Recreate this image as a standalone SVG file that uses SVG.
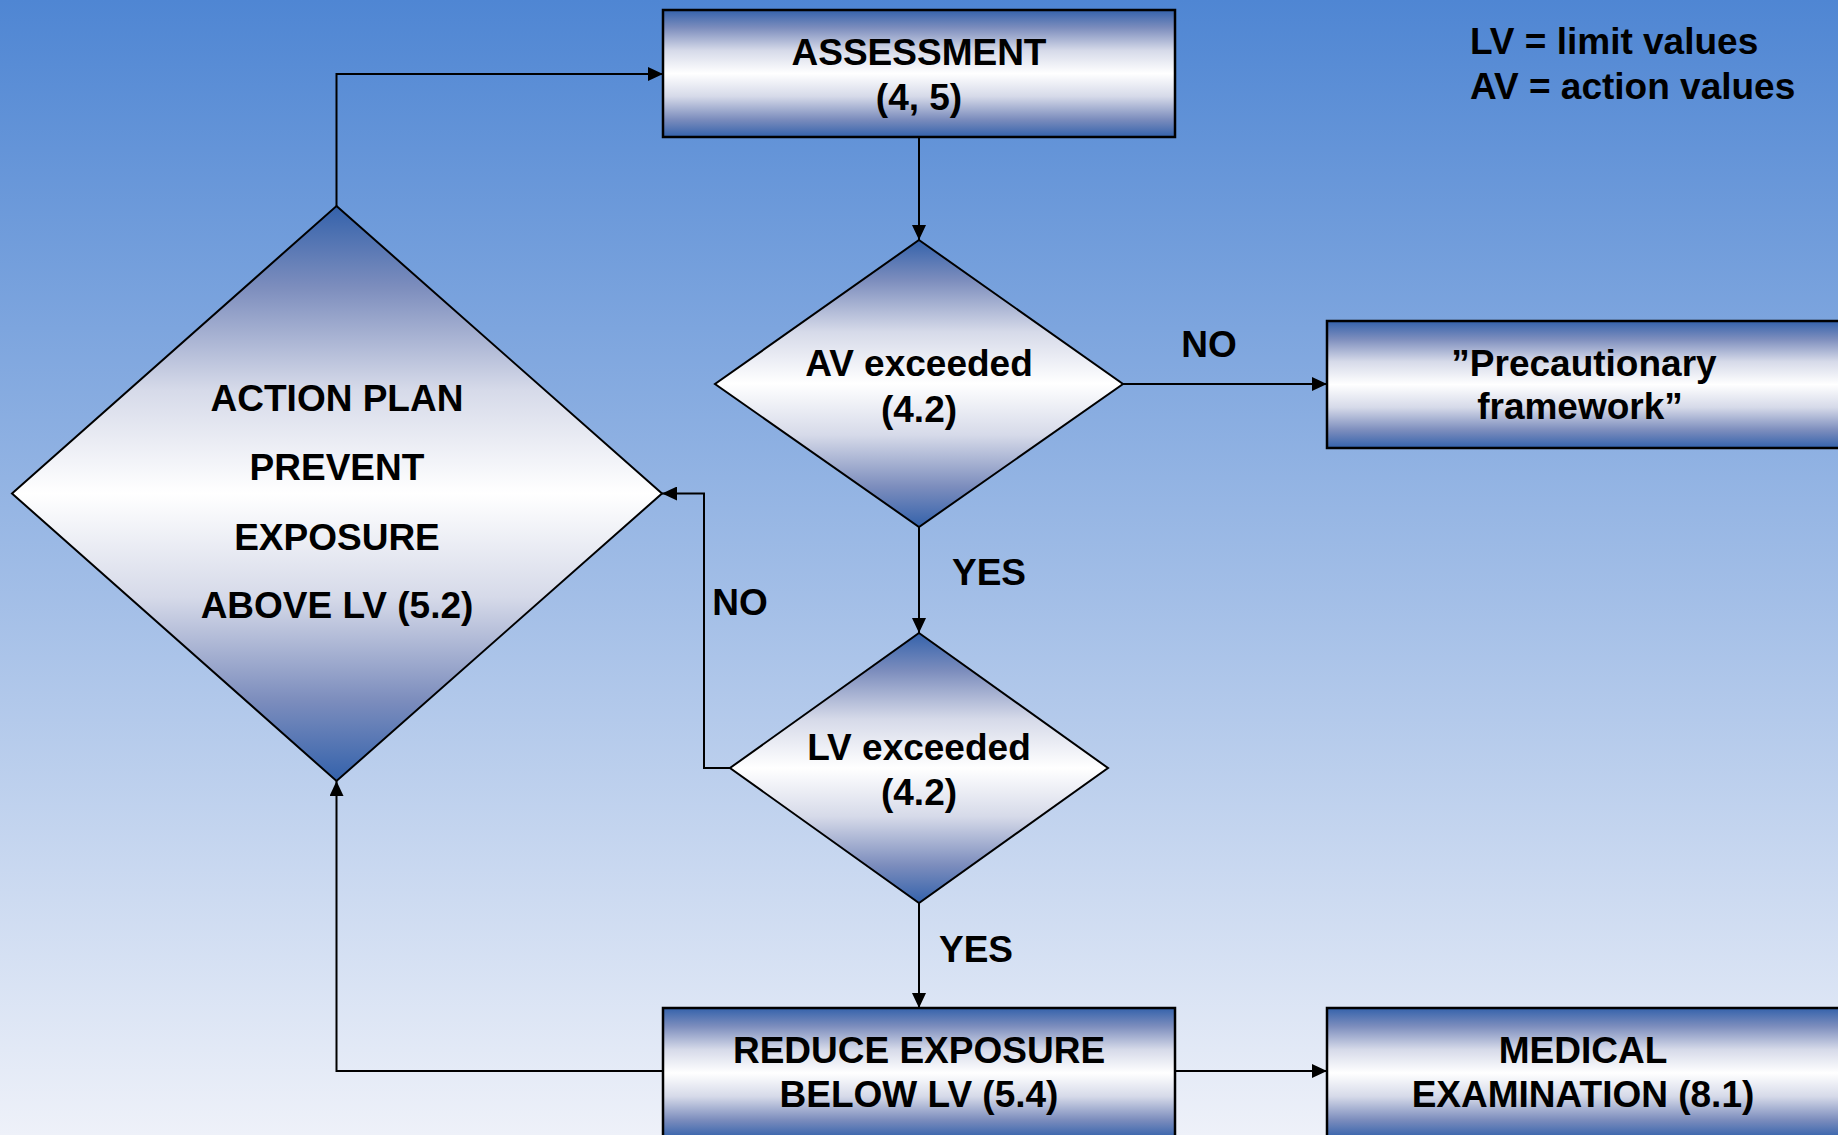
<svg xmlns="http://www.w3.org/2000/svg" width="1838" height="1135" viewBox="0 0 1838 1135">
<defs>
<linearGradient id="bg" x1="0" y1="0" x2="0" y2="1">
<stop offset="0" stop-color="#4f86d3"/>
<stop offset="1" stop-color="#eef1f9"/>
</linearGradient>
<linearGradient id="nodeFill" x1="0" y1="0" x2="0" y2="1">
<stop offset="0" stop-color="#3462ab"/>
<stop offset="0.14" stop-color="#7c8dbd"/>
<stop offset="0.32" stop-color="#d6dae9"/>
<stop offset="0.5" stop-color="#ffffff"/>
<stop offset="0.68" stop-color="#d6dae9"/>
<stop offset="0.86" stop-color="#7c8dbd"/>
<stop offset="1" stop-color="#3462ab"/>
</linearGradient>
<marker id="arrow" markerUnits="userSpaceOnUse" markerWidth="15" markerHeight="14" refX="15" refY="7" orient="auto">
<path d="M0,0 L15,7 L0,14 z" fill="#000"/>
</marker>
</defs>
<style>
.box{fill:url(#nodeFill);stroke:#000;stroke-width:2.5}
.dia{fill:url(#nodeFill);stroke:#000;stroke-width:2}
.t{font-family:"Liberation Sans",Arial,sans-serif;font-weight:bold;font-size:37px;fill:#000;text-anchor:middle}
.lg{font-family:"Liberation Sans",Arial,sans-serif;font-weight:bold;font-size:37px;fill:#000}
.c{fill:none;stroke:#000;stroke-width:2;marker-end:url(#arrow)}
</style>
<rect x="0" y="0" width="1838" height="1135" fill="url(#bg)"/>

<g id="connectors">
<path class="c" d="M336.5,206 V74 H663"/>
<path class="c" d="M919,137 V240"/>
<path class="c" d="M1123,384 H1327"/>
<path class="c" d="M919,527 V633"/>
<path class="c" d="M730,768 H704 V493.5 H662"/>
<path class="c" d="M919,903 V1008"/>
<path class="c" d="M663,1071 H336.5 V781"/>
<path class="c" d="M1175,1071 H1327"/>
</g>

<g id="labels">
<text class="t" x="1209" y="357">NO</text>
<text class="t" x="989" y="585">YES</text>
<text class="t" x="740" y="615">NO</text>
<text class="t" x="976" y="962">YES</text>
</g>

<g id="legend">
<text class="lg" x="1470" y="54">LV = limit values</text>
<text class="lg" x="1470" y="99">AV = action values</text>
</g>

<g id="assessment">
<rect class="box" x="663" y="10" width="512" height="127"/>
<text class="t" x="919" y="65">ASSESSMENT</text>
<text class="t" x="919" y="110">(4, 5)</text>
</g>

<g id="av-exceeded">
<polygon class="dia" points="919,240 1123,384 919,527 715,384"/>
<text class="t" x="919" y="376">AV exceeded</text>
<text class="t" x="919" y="422">(4.2)</text>
</g>

<g id="precautionary">
<rect class="box" x="1327" y="321" width="600" height="127"/>
<text class="t" x="1584" y="376">”Precautionary</text>
<text class="t" x="1580" y="419">framework”</text>
</g>

<g id="lv-exceeded">
<polygon class="dia" points="919,633 1108,768 919,903 730,768"/>
<text class="t" x="919" y="760">LV exceeded</text>
<text class="t" x="919" y="805">(4.2)</text>
</g>

<g id="action-plan">
<polygon class="dia" points="336.5,206 662,493.5 336.5,781 12,493.5"/>
<text class="t" x="337" y="411">ACTION PLAN</text>
<text class="t" x="337" y="480">PREVENT</text>
<text class="t" x="337" y="550">EXPOSURE</text>
<text class="t" x="337" y="618">ABOVE LV (5.2)</text>
</g>

<g id="reduce-exposure">
<rect class="box" x="663" y="1008" width="512" height="130"/>
<text class="t" x="919" y="1063">REDUCE EXPOSURE</text>
<text class="t" x="919" y="1107">BELOW LV (5.4)</text>
</g>

<g id="medical-examination">
<rect class="box" x="1327" y="1008" width="600" height="130"/>
<text class="t" x="1583" y="1063">MEDICAL</text>
<text class="t" x="1583" y="1107">EXAMINATION (8.1)</text>
</g>
</svg>
